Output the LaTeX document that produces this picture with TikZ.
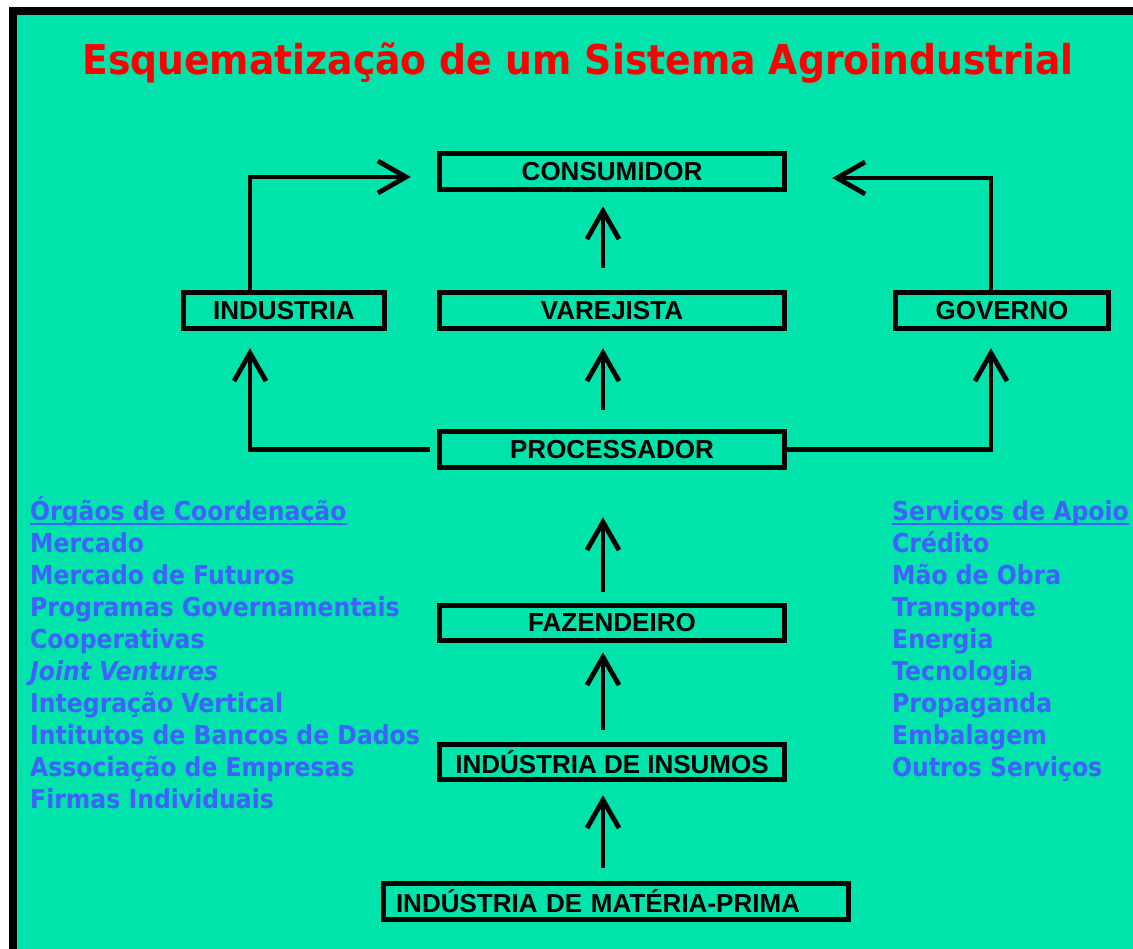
\documentclass[tikz,border=0pt]{standalone}
\usepackage{fontspec}
\usetikzlibrary{arrows.meta}
\setmainfont{Liberation Sans}
\newfontfamily\tahoma[FakeStretch=0.905]{DejaVu Sans}
\newfontfamily\tahomatitulo[FakeStretch=0.92]{DejaVu Sans}
\definecolor{fundo}{HTML}{00E3AA}
\definecolor{azul}{HTML}{4060FF}
\tikzset{node style caixa/.style={draw, line width=5.5pt, inner sep=0pt, minimum height=36pt, font=\fontsize{26}{26}\selectfont\bfseries}}
\tikzset{node style lista/.style={anchor=base west, inner sep=0pt, text=azul, font=\tahoma\fontsize{26}{26}\selectfont\bfseries}}
\tikzset{seta/.style={line width=4.8pt, -{Straight Barb[length=28pt,width=32pt]}}}

\begin{document}
\begin{tikzpicture}[x=1pt, y=-1pt, line join=miter]
   % fundo e moldura
   \useasboundingbox (0,0) rectangle (1133,949);
   \fill [fundo] (13,11.5) rectangle (1133,949);
   \draw [line width=8pt] (13,960) -- (13,11.5) -- (1145,11.5);

   \node [anchor=base, text=red, font=\tahomatitulo\fontsize{41}{41}\selectfont\bfseries] (titulo) at (578,75) {Esquematização de um Sistema Agroindustrial};

   % cadeia central
   \node [node style caixa, minimum width=345pt] (consumidor) at (612,171.5) {CONSUMIDOR};
   \node [node style caixa, minimum width=201pt] (industria) at (284,310.5) {INDUSTRIA};
   \node [node style caixa, minimum width=345pt] (varejista) at (612,310.5) {VAREJISTA};
   \node [node style caixa, minimum width=213pt] (governo) at (1002,310.5) {GOVERNO};
   \node [node style caixa, minimum width=345pt] (processador) at (612,449.5) {PROCESSADOR};
   \node [node style caixa, minimum width=345pt, minimum height=35pt] (fazendeiro) at (612,623) {FAZENDEIRO};
   \node [node style caixa, minimum width=345pt, minimum height=35pt] (insumos) at (612,762) {INDÚSTRIA DE INSUMOS};
   \node [node style caixa, text width=440pt, inner xsep=12.5pt, align=left] (materiaprima) at (616,901.5) {INDÚSTRIA DE MATÉRIA-PRIMA};

   \draw [seta, shorten <=22pt, shorten >=14pt] ([xshift=-9pt]varejista.north) -- ([xshift=-9pt]consumidor.south);
   \draw [seta, shorten <=19pt, shorten >=17pt] ([xshift=-9pt]processador.north) -- ([xshift=-9pt]varejista.south);
   \draw [seta, shorten <=11pt, shorten >=47pt] ([xshift=-9pt]fazendeiro.north) -- ([xshift=-9pt]processador.south);
   \draw [seta, shorten <=12pt, shorten >=9pt] ([xshift=-9pt]insumos.north) -- ([xshift=-9pt]fazendeiro.south);
   \draw [seta, shorten <=13pt, shorten >=13pt] ([xshift=-13pt]materiaprima.north) -- ([xshift=-9pt]insumos.south);

   \draw [seta] ([xshift=-34pt]industria.north) |- ([shift={(-26pt,-5.5pt)}]consumidor.west);
   \draw [seta] ([xshift=-11pt]governo.north) |- ([shift={(45pt,-6.5pt)}]consumidor.east);
   \draw [seta, shorten <=7pt] (processador.west) -| ([shift={(-34pt,-17pt)}]industria.south);
   \draw [seta] (processador.east) -| ([shift={(-11pt,-17pt)}]governo.south);

   % listas laterais
   \foreach \txt [count=\i from 0] in {Órgãos de Coordenação, Mercado, Mercado de Futuros, Programas Governamentais, Cooperativas, \textit{Joint Ventures}, Integração Vertical, Intitutos de Bancos de Dados, Associação de Empresas, Firmas Individuais}
      \node [node style lista] (orgao-\i) at (30,520.7+32*\i) {\txt};
   \foreach \txt [count=\i from 0] in {Serviços de Apoio, Crédito, Mão de Obra, Transporte, Energia, Tecnologia, Propaganda, Embalagem, Outros Serviços}
      \node [node style lista] (servico-\i) at (892,520.7+32*\i) {\txt};
   \draw [azul, line width=2pt] ([yshift=-3pt]orgao-0.base west) -- ([yshift=-3pt]orgao-0.base east);
   \draw [azul, line width=2pt] ([yshift=-3pt]servico-0.base west) -- ([yshift=-3pt]servico-0.base east);
\end{tikzpicture}
\end{document}
